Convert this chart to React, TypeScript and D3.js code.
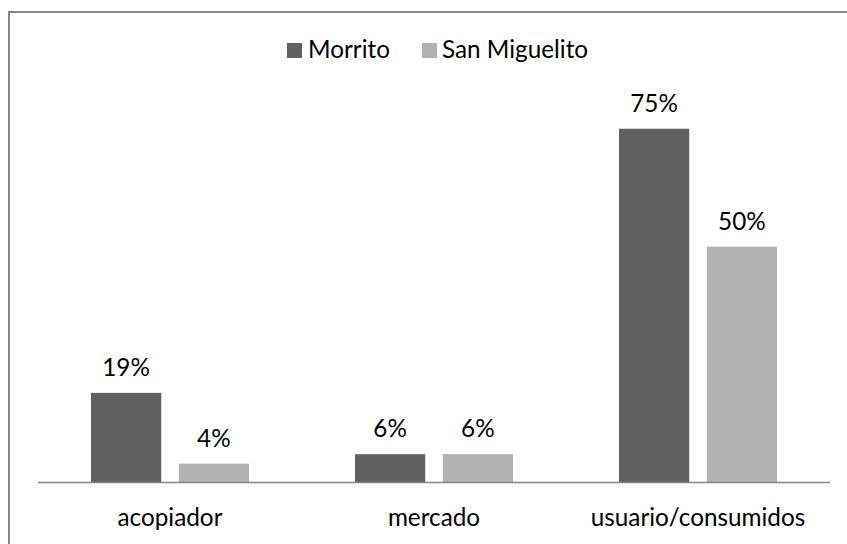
import React from "react";
import * as d3 from "d3";

const categories = ["acopiador", "mercado", "usuario/consumidos"];
const seriesNames = ["Morrito", "San Miguelito"];
const morrito = [19, 6, 75];
const sanMiguelito = [4, 6, 50];
const seriesColors = ["#606060", "#b2b2b2"];

const W = 847;
const H = 544;
const FONT = "Lato, 'Open Sans', sans-serif";

export default function App() {
  const values = [morrito, sanMiguelito];
  const x = d3.scaleBand<string>().domain(categories).range([38, 830]).paddingInner(0).paddingOuter(0);
  const inner = d3.scaleBand<string>().domain(seriesNames).range([0, 158]).paddingInner(0.2).paddingOuter(0);
  const groupOffset = (x.bandwidth() - 158) / 2;
  const y = d3.scaleLinear().domain([0, 80]).range([482.5, 482.5 - 80 * 4.717]);
  const fs = 24.3;

  return (
    <svg width={W} height={H} style={{ position: "absolute", left: 0, top: 0, background: "#fff" }}>
      <rect x={9} y={12} width={W} height={H} fill="#fff" stroke="#868686" strokeWidth={2} />
      {/* legend */}
      {(() => {
        const items = [
          { name: seriesNames[0], sx: 287, tx: 308 },
          { name: seriesNames[1], sx: 422, tx: 442 },
        ];
        return items.map((it, i) => (
          <g key={it.name}>
            <rect x={it.sx} y={43} width={15} height={15} fill={seriesColors[i]} />
            <text x={it.tx} y={58} fontFamily={FONT} fontSize={fs} fill="#000">
              {it.name}
            </text>
          </g>
        ));
      })()}
      {/* bars */}
      {categories.map((c, ci) => (
        <g key={c}>
          {seriesNames.map((s, si) => {
            const v = values[si][ci];
            const bx = (x(c) as number) + groupOffset + (inner(s) as number);
            const bw = inner.bandwidth();
            return (
              <g key={s}>
                <rect x={bx} y={y(v)} width={bw} height={y(0) - y(v)} fill={seriesColors[si]} />
                <text
                  x={bx + bw / 2}
                  y={y(v) - 17}
                  textAnchor="middle"
                  fontFamily={FONT}
                  fontSize={fs}
                  fill="#000"
                >
                  {v}%
                </text>
              </g>
            );
          })}
          <text
            x={(x(c) as number) + x.bandwidth() / 2}
            y={526}
            textAnchor="middle"
            fontFamily={FONT}
            fontSize={fs}
            fill="#000"
          >
            {c}
          </text>
        </g>
      ))}
      <line x1={38} x2={830} y1={y(0)} y2={y(0)} stroke="#868686" strokeWidth={1.5} />
    </svg>
  );
}
